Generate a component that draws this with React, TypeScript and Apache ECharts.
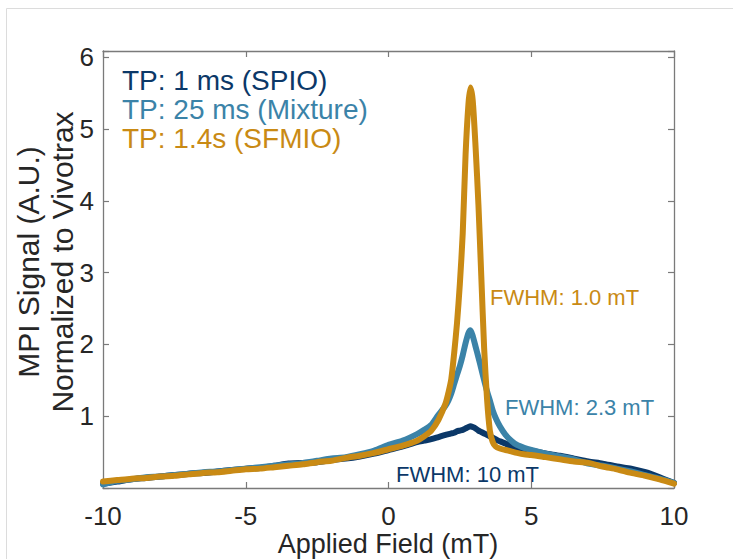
import React, { useEffect, useRef } from "react";
import * as echarts from "echarts";

const fieldMT = [-10, -9.5, -9, -8.5, -8, -7.5, -7, -6.5, -6, -5.5, -5, -4.5, -4, -3.5, -3, -2.5, -2, -1.5, -1, -0.5, 0, 0.5, 1, 1.25, 1.5, 1.75, 2, 2.1, 2.2, 2.3, 2.4, 2.5, 2.6, 2.7, 2.8, 2.87, 2.95, 3.05, 3.15, 3.25, 3.35, 3.45, 3.55, 3.65, 3.75, 3.9, 4.1, 4.3, 4.5, 4.75, 5, 5.5, 6, 6.5, 7, 7.5, 8, 8.5, 9, 9.5, 10];

const spio = [0.06, 0.09, 0.12, 0.14, 0.16, 0.18, 0.2, 0.21, 0.23, 0.25, 0.27, 0.28, 0.31, 0.34, 0.35, 0.36, 0.39, 0.41, 0.44, 0.48, 0.53, 0.58, 0.64, 0.66, 0.68, 0.71, 0.74, 0.75, 0.76, 0.77, 0.79, 0.8, 0.81, 0.83, 0.85, 0.86, 0.85, 0.83, 0.8, 0.78, 0.76, 0.74, 0.72, 0.7, 0.68, 0.65, 0.62, 0.58, 0.56, 0.54, 0.52, 0.48, 0.45, 0.41, 0.37, 0.34, 0.3, 0.27, 0.22, 0.15, 0.07];

const mixture = [0.05, 0.1, 0.12, 0.15, 0.16, 0.18, 0.2, 0.22, 0.23, 0.25, 0.27, 0.29, 0.31, 0.33, 0.35, 0.38, 0.41, 0.43, 0.47, 0.52, 0.6, 0.66, 0.75, 0.81, 0.88, 1.02, 1.15, 1.22, 1.32, 1.45, 1.58, 1.7, 1.85, 2.02, 2.16, 2.2, 2.12, 1.97, 1.82, 1.66, 1.5, 1.35, 1.22, 1.08, 0.98, 0.86, 0.74, 0.66, 0.6, 0.56, 0.53, 0.48, 0.44, 0.4, 0.34, 0.31, 0.27, 0.23, 0.18, 0.13, 0.07];

const sfmio = [0.09, 0.11, 0.13, 0.14, 0.16, 0.17, 0.19, 0.21, 0.22, 0.24, 0.26, 0.27, 0.29, 0.31, 0.33, 0.36, 0.38, 0.42, 0.45, 0.49, 0.54, 0.59, 0.66, 0.72, 0.8, 0.95, 1.18, 1.33, 1.52, 1.88, 2.3, 2.85, 3.55, 4.65, 5.35, 5.58, 5.4, 4.75, 3.95, 2.95, 1.95, 1.25, 0.8, 0.64, 0.58, 0.55, 0.53, 0.51, 0.49, 0.47, 0.46, 0.43, 0.4, 0.37, 0.35, 0.3, 0.26, 0.21, 0.17, 0.12, 0.06];

const seriesNames = ["TP: 1 ms (SPIO)", "TP: 25 ms (Mixture)", "TP: 1.4s (SFMIO)"];
const fwhmLabels = ["FWHM: 10 mT", "FWHM: 2.3 mT", "FWHM: 1.0 mT"];
const xTitle = "Applied Field (mT)";
const yTitle1 = "MPI Signal (A.U.)";
const yTitle2 = "Normalized to Vivotrax";

const COLORS = ["#0b3868", "#3b83a8", "#c98a14"];
const FONT = "'Liberation Sans', Arial, Helvetica, sans-serif";
const AXIS = "#7a7a7a";
const TXT = "#262626";

export default function App() {
  const ref = useRef<HTMLDivElement>(null);
  useEffect(() => {
    if (!ref.current) return;
    const chart = echarts.init(ref.current, null, { renderer: "svg" });
    const pairs = (ys: number[]) => fieldMT.map((x, i) => [x, ys[i]]);
    const allSeries = [spio, mixture, sfmio];
    const axisCommon = {
      axisLine: { show: true, onZero: false, lineStyle: { color: AXIS, width: 1.3 } },
      axisTick: { show: true, inside: true, length: 6, lineStyle: { color: AXIS, width: 1.2 } },
      splitLine: { show: false },
    };
    chart.setOption({
      animation: false,
      backgroundColor: "#ffffff",
      grid: { left: 103, right: 59, top: 51, bottom: 71, containLabel: false },
      xAxis: [
        {
          type: "value", min: -10, max: 10, interval: 5, position: "bottom",
          ...axisCommon,
          axisLabel: { color: TXT, fontSize: 26, fontFamily: FONT, margin: 15 },
        },
        {
          type: "value", min: -10, max: 10, interval: 5, position: "top",
          ...axisCommon,
          axisLabel: { show: false },
        },
      ],
      yAxis: [
        {
          type: "value", min: 0, max: 6.09, interval: 1, position: "left",
          ...axisCommon,
          axisLabel: {
            color: TXT, fontSize: 26, fontFamily: FONT, margin: 9,
            formatter: (v: number) => (v > 0 && Math.abs(v - Math.round(v)) < 1e-6 ? String(Math.round(v)) : ""),
          },
        },
        {
          type: "value", min: 0, max: 6.09, interval: 1, position: "right",
          ...axisCommon,
          axisLabel: { show: false },
        },
      ],
      series: allSeries.map((ys, i) => ({
        type: "line",
        name: seriesNames[i],
        data: pairs(ys),
        showSymbol: false,
        smooth: 0.25,
        z: 2 + i,
        lineStyle: { color: COLORS[i], width: 6, cap: "round", join: "round" },
        itemStyle: { color: COLORS[i] },
      })),
      graphic: [
        { type: "line", shape: { x1: 6.5, y1: 8.5, x2: 733, y2: 8.5 }, style: { stroke: "#dcdcdc", lineWidth: 1 }, silent: true },
        { type: "line", shape: { x1: 6.5, y1: 8.5, x2: 6.5, y2: 559 }, style: { stroke: "#dcdcdc", lineWidth: 1 }, silent: true },
        ...seriesNames.map((t, i) => ({
          type: "text", x: 122, y: 80 + i * 29,
          style: { text: t, fill: COLORS[i], font: `28px ${FONT}`, verticalAlign: "middle" },
        })),
        { type: "text", x: 490, y: 297, style: { text: fwhmLabels[2], fill: COLORS[2], font: `22px ${FONT}`, verticalAlign: "middle" } },
        { type: "text", x: 505, y: 407, style: { text: fwhmLabels[1], fill: COLORS[1], font: `22px ${FONT}`, verticalAlign: "middle" } },
        { type: "text", x: 396, y: 474, style: { text: fwhmLabels[0], fill: COLORS[0], font: `22px ${FONT}`, verticalAlign: "middle" } },
        { type: "text", x: 388, y: 544, style: { text: xTitle, fill: TXT, font: `27px ${FONT}`, align: "center", verticalAlign: "middle" } },
        { type: "text", x: 28, y: 262, rotation: Math.PI / 2, style: { text: yTitle1, fill: TXT, font: `30px ${FONT}`, align: "center", verticalAlign: "middle" } },
        { type: "text", x: 62, y: 262, rotation: Math.PI / 2, style: { text: yTitle2, fill: TXT, font: `30px ${FONT}`, align: "center", verticalAlign: "middle" } },
      ],
    });
    return () => chart.dispose();
  }, []);
  return (
    <div
      ref={ref}
      style={{ position: "fixed", left: 0, top: 0, width: 733, height: 559, background: "#fff" }}
    />
  );
}
